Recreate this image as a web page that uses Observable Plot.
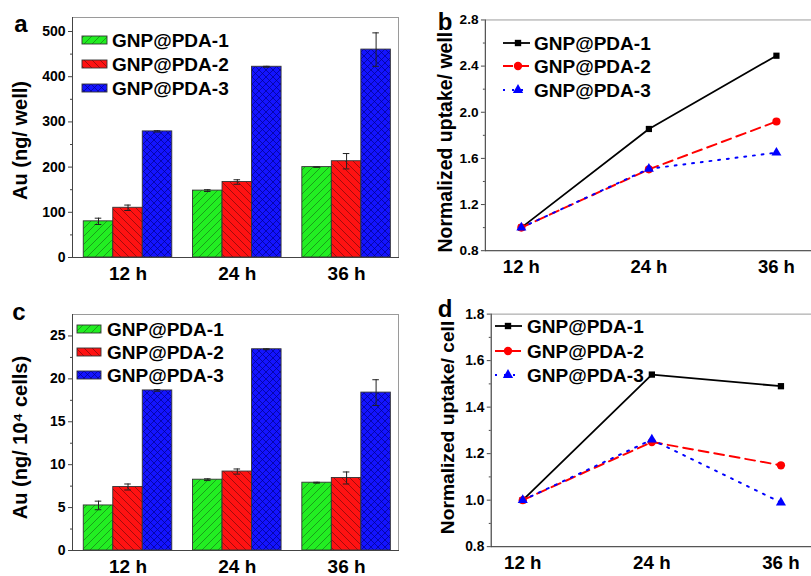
<!DOCTYPE html>
<html><head><meta charset="utf-8">
<script src="https://cdn.jsdelivr.net/npm/d3@7"></script>
<script src="https://cdn.jsdelivr.net/npm/@observablehq/plot@0.6"></script>
<style>
html,body{margin:0;padding:0;background:#fff;}
#fig{position:relative;width:811px;height:576px;overflow:hidden;background:#fff;font-family:"Liberation Sans",Arial,sans-serif;}
#fig .panel{position:absolute;}
</style></head><body>
<svg width="0" height="0" style="position:absolute">
<defs>
<pattern id="pat0" patternUnits="userSpaceOnUse" width="8" height="8">
 <rect width="8" height="8" fill="#22ee22"/>
 <path d="M-2,2 l4,-4 M0,8 l8,-8 M6,10 l4,-4" stroke="#178a17" stroke-width="0.8"/>
</pattern>
<pattern id="pat1" patternUnits="userSpaceOnUse" width="8" height="8">
 <rect width="8" height="8" fill="#ff1212"/>
 <path d="M-2,6 l4,4 M0,0 l8,8 M6,-2 l4,4" stroke="#8a0a0a" stroke-width="0.8"/>
</pattern>
<pattern id="pat2" patternUnits="userSpaceOnUse" width="7" height="7">
 <rect width="7" height="7" fill="#1414ff"/>
 <path d="M-2,2 l4,-4 M0,7 l7,-7 M5,9 l4,-4 M-2,5 l4,4 M0,0 l7,7 M5,-2 l4,4" stroke="#00008a" stroke-width="0.7"/>
</pattern>
</defs></svg>
<div id="fig"></div>
<script>
// ---------------- data ----------------
const times = ["12 h", "24 h", "36 h"];
const series = ["GNP@PDA-1", "GNP@PDA-2", "GNP@PDA-3"];

// (a) Au per well (ng)
const wellAu1 = [80, 148, 200];
const wellAu2 = [110, 167, 213];
const wellAu3 = [279, 422, 460];
const wellErr1 = [7, 2, 0.5];
const wellErr2 = [6, 5, 17];
const wellErr3 = [1.5, 1, 37];

// (c) Au per 10^4 cells (ng)
const cellAu1 = [5.25, 8.25, 7.9];
const cellAu2 = [7.4, 9.2, 8.45];
const cellAu3 = [18.65, 23.45, 18.4];
const cellErr1 = [0.5, 0.1, 0.05];
const cellErr2 = [0.35, 0.3, 0.7];
const cellErr3 = [0.1, 0.05, 1.5];

// (b) normalized uptake per well
const normWell1 = [1.0, 1.855, 2.49];
const normWell2 = [1.0, 1.505, 1.92];
const normWell3 = [1.0, 1.51, 1.65];

// (d) normalized uptake per cell
const normCell1 = [1.0, 1.54, 1.49];
const normCell2 = [1.0, 1.25, 1.15];
const normCell3 = [1.0, 1.26, 0.99];

// tick labels
const wellTicks = [0, 100, 200, 300, 400, 500];
const wellMinor = [50, 150, 250, 350, 450];
const cellTicks = [0, 5, 10, 15, 20, 25];
const cellMinor = [2.5, 7.5, 12.5, 17.5, 22.5];
const normWellTicks = [0.8, 1.2, 1.6, 2.0, 2.4, 2.8];
const normWellMinor = [1.0, 1.4, 1.8, 2.2, 2.6];
const normCellTicks = [0.8, 1.0, 1.2, 1.4, 1.6, 1.8];
const normCellMinor = [0.9, 1.1, 1.3, 1.5, 1.7];

// ---------------- styles ----------------
const FONT = '"Liberation Sans", Arial, sans-serif';
const lineColors = ["#000000", "#ff0000", "#0000ff"];
const lineDash = [null, "10,6", "2,7"];
const lineSymbols = ["square", "circle", "triangle"];
const lineR = [3.6, 4.2, 3.8];
const BW = 0.27;      // bar width in group units
const CAP = 0.03;     // error cap half-width

const fig = document.getElementById("fig");
function place(el, left, top) {
  const d = document.createElement("div");
  d.className = "panel";
  d.style.left = left + "px";
  d.style.top = top + "px";
  d.appendChild(el);
  fig.appendChild(d);
}

function barPanel({values, errors, yDomain, ticks, minor, title, titleDy, marginTop, marginBottom}) {
  const rows = [];
  times.forEach((t, i) => series.forEach((s, j) => {
    rows.push({i, j, x: i + (j - 1) * BW, y: values[j][i], e: errors[j][i]});
  }));
  return Plot.plot({
    width: 405, height: 288,
    marginLeft: 72, marginRight: 7, marginTop, marginBottom,
    style: {fontFamily: FONT, background: "transparent"},
    x: {domain: [-0.508, 2.475]},
    y: {domain: yDomain},
    marks: [
      ...series.map((s, j) => Plot.rect(rows.filter(r => r.j === j), {
        x1: r => r.x - BW / 2, x2: r => r.x + BW / 2, y1: 0, y2: "y",
        fill: `url(#pat${j})`, stroke: "#333", strokeWidth: 0.9
      })),
      Plot.ruleX(rows, {x: "x", y1: r => r.y - r.e, y2: r => r.y + r.e, stroke: "#222", strokeWidth: 1}),
      Plot.ruleY(rows, {y: r => r.y + r.e, x1: r => r.x - CAP, x2: r => r.x + CAP, stroke: "#222", strokeWidth: 1}),
      Plot.ruleY(rows, {y: r => r.y - r.e, x1: r => r.x - CAP, x2: r => r.x + CAP, stroke: "#222", strokeWidth: 1}),
      Plot.frame({stroke: "#9a9a9a"}),
      Plot.frame({anchor: "left", stroke: "#444"}),
      Plot.frame({anchor: "bottom", stroke: "#444"}),
      Plot.axisY({ticks, tickSize: 4, tickPadding: 3, fontSize: 14, fontWeight: "bold", label: null, stroke: "#444"}),
      Plot.axisY({ticks: minor, tickSize: 2, tickFormat: () => "", label: null, stroke: "#444"}),
      Plot.axisX({ticks: [0, 1, 2], tickFormat: i => times[i], tickSize: 0, tickPadding: 9, fontSize: 19, fontWeight: "bold", label: null}),
      Plot.text([title], {text: d => d, frameAnchor: "left", textAnchor: "middle", rotate: -90, dx: -52, dy: titleDy, fontSize: 20, fontWeight: "bold"})
    ]
  });
}

function linePanel({vals, yDomain, ticks, minor, title, width, marginLeft, padding, fmt, titleDx, titleDy, titleSize, marginTop, marginBottom}) {
  const marks = [
    Plot.frame({stroke: "#9a9a9a"}),
    Plot.frame({anchor: "left", stroke: "#444"}),
    Plot.frame({anchor: "bottom", stroke: "#444"}),
    Plot.axisY({ticks, tickSize: 4, tickPadding: 3, fontSize: 14, fontWeight: "bold", label: null, tickFormat: fmt, stroke: "#444"}),
    Plot.axisY({ticks: minor, tickSize: 2, tickFormat: () => "", label: null, stroke: "#444"}),
    Plot.axisX({tickSize: 0, tickPadding: 9, fontSize: 19, fontWeight: "bold", label: null})
  ];
  series.forEach((s, j) => {
    const data = times.map((t, i) => ({t, v: vals[j][i]}));
    marks.push(Plot.line(data, {x: "t", y: "v", stroke: lineColors[j], strokeWidth: j === 0 ? 1.8 : 2, strokeDasharray: lineDash[j]}));
  });
  series.forEach((s, j) => {
    const data = times.map((t, i) => ({t, v: vals[j][i]}));
    marks.push(Plot.dot(data, {x: "t", y: "v", fill: lineColors[j], stroke: "none", symbol: lineSymbols[j], r: lineR[j]}));
  });
  marks.push(Plot.text([title], {text: d => d, frameAnchor: "left", textAnchor: "middle", rotate: -90, dx: titleDx, dy: titleDy, fontSize: titleSize, fontWeight: "bold"}));
  return Plot.plot({
    width, height: 288,
    marginLeft, marginRight: 0, marginTop, marginBottom,
    style: {fontFamily: FONT, background: "transparent"},
    x: {type: "point", domain: times, padding},
    y: {domain: yDomain},
    marks
  });
}

place(barPanel({
  values: [wellAu1, wellAu2, wellAu3], errors: [wellErr1, wellErr2, wellErr3],
  yDomain: [0, 531], ticks: wellTicks, minor: wellMinor, title: "Au (ng/ well)", titleDy: 3,
  marginTop: 17, marginBottom: 31
}), 0, 0);

place(linePanel({
  vals: [normWell1, normWell2, normWell3], yDomain: [0.8, 2.8],
  ticks: normWellTicks, minor: normWellMinor, title: "Normalized uptake/ well",
  width: 417, marginLeft: 82, padding: 0.274, fmt: d3.format(".1f"),
  titleDx: -41, titleDy: 7, titleSize: 20, marginTop: 20, marginBottom: 31
}), 405, 0);

place(barPanel({
  values: [cellAu1, cellAu2, cellAu3], errors: [cellErr1, cellErr2, cellErr3],
  yDomain: [0, 27.5], ticks: cellTicks, minor: cellMinor, title: "Au (ng/ 10\u2074 cells)", titleDy: 5,
  marginTop: 26, marginBottom: 26
}), 0, 288);

place(linePanel({
  vals: [normCell1, normCell2, normCell3], yDomain: [0.8, 1.8],
  ticks: normCellTicks, minor: normCellMinor, title: "Normalized uptake/ cell",
  width: 412, marginLeft: 87, padding: 0.236, fmt: d3.format(".1f"),
  titleDx: -44, titleDy: -3, titleSize: 19.5, marginTop: 26, marginBottom: 26
}), 405, 288);

// ---------------- legends & panel letters (overlay) ----------------
const ov = d3.create("svg").attr("width", 811).attr("height", 576)
  .style("position", "absolute").style("left", "0px").style("top", "0px")
  .style("font-family", FONT).style("font-weight", "bold");
fig.appendChild(ov.node());

function barLegend(x0, x1, tx, ys) {
  series.forEach((s, j) => {
    ov.append("rect").attr("x", x0).attr("y", ys[j] - 4).attr("width", x1 - x0).attr("height", 8)
      .attr("fill", `url(#pat${j})`).attr("stroke", "#333").attr("stroke-width", 0.9);
    ov.append("text").attr("x", tx).attr("y", ys[j]).attr("dy", "0.35em")
      .attr("font-size", 19).text(s);
  });
}
function lineLegend(x0, x1, mx, tx, ys) {
  series.forEach((s, j) => {
    ov.append("line").attr("x1", x0).attr("x2", x1).attr("y1", ys[j]).attr("y2", ys[j])
      .attr("stroke", lineColors[j]).attr("stroke-width", j === 0 ? 1.8 : 2)
      .attr("stroke-dasharray", lineDash[j]);
    const sym = [d3.symbolSquare, d3.symbolCircle, d3.symbolTriangle][j];
    ov.append("path").attr("d", d3.symbol(sym, Math.PI * lineR[j] * lineR[j])())
      .attr("transform", `translate(${mx},${ys[j]})`).attr("fill", lineColors[j]);
    ov.append("text").attr("x", tx).attr("y", ys[j]).attr("dy", "0.35em")
      .attr("font-size", 19).text(s);
  });
}
barLegend(82, 107, 112, [40, 64, 88]);
barLegend(77, 101, 107, [329, 352, 375]);
lineLegend(503, 530, 518, 534, [43, 66, 90]);
lineLegend(495, 522, 508, 527, [326, 351, 375]);

const letters = [["a", 21, 32], ["b", 445, 30], ["c", 19, 320], ["d", 445, 317]];
letters.forEach(([t, x, y]) => ov.append("text").attr("x", x).attr("y", y)
  .attr("text-anchor", "middle").attr("font-size", 24).text(t));
</script>
</body></html>
